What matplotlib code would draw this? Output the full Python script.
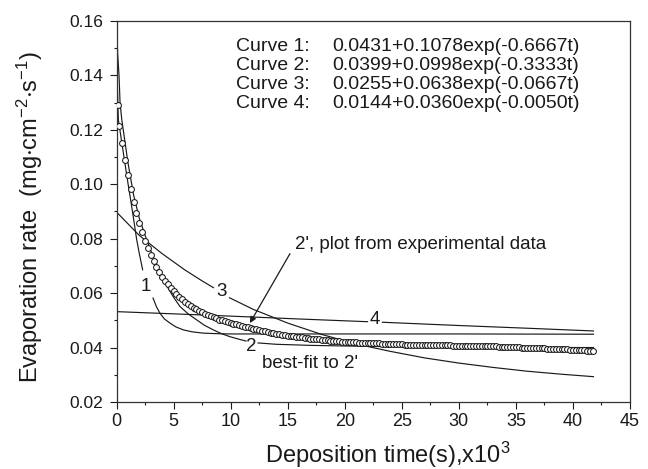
import numpy as np
import matplotlib
matplotlib.use("Agg")
import matplotlib.pyplot as plt
from matplotlib.ticker import MultipleLocator, FormatStrFormatter

plt.rcParams['font.family'] = ['Liberation Sans', 'DejaVu Sans']
plt.rcParams['mathtext.fontset'] = 'custom'
plt.rcParams['mathtext.rm'] = 'Liberation Sans'
plt.rcParams['mathtext.it'] = 'Liberation Sans:italic'
plt.rcParams['mathtext.default'] = 'regular'

# ---- experimental data 2' (time in 10^3 s, rate in mg cm^-2 s^-1) ----
exp_y = [
    0.1290,
    0.1216, 0.1150, 0.1088, 0.1033, 0.0982, 0.0936, 0.0895, 0.0858,
    0.0824, 0.0793, 0.0765, 0.0740, 0.0717, 0.0697, 0.0678, 0.0661,
    0.0646, 0.0632, 0.0619, 0.0607, 0.0596, 0.0586, 0.0577, 0.0569,
    0.0561, 0.0554, 0.0547, 0.0541, 0.0535, 0.0530, 0.0525, 0.0520,
    0.0515, 0.0511, 0.0507, 0.0503, 0.0500, 0.0496, 0.0493, 0.0490,
    0.0487, 0.0485, 0.0482, 0.0480, 0.0477, 0.0475, 0.0472, 0.0470,
    0.0467, 0.0465, 0.0462, 0.0460, 0.0458, 0.0455, 0.0453, 0.0451,
    0.0449, 0.0447, 0.0446, 0.0444, 0.0443, 0.0441, 0.0440, 0.0438,
    0.0437, 0.0436, 0.0434, 0.0433, 0.0432, 0.0431, 0.0430, 0.0428,
    0.0427, 0.0426, 0.0425, 0.0424, 0.0423, 0.0423, 0.0422, 0.0421,
    0.0420, 0.0420, 0.0419, 0.0419, 0.0418, 0.0418, 0.0417, 0.0417,
    0.0416, 0.0416, 0.0415, 0.0415, 0.0414, 0.0414, 0.0413, 0.0413,
    0.0413, 0.0412, 0.0412, 0.0412, 0.0411, 0.0411, 0.0411, 0.0411,
    0.0410, 0.0410, 0.0410, 0.0410, 0.0410, 0.0409, 0.0409, 0.0409,
    0.0409, 0.0408, 0.0408, 0.0408, 0.0408, 0.0407, 0.0407, 0.0407,
    0.0407, 0.0406, 0.0406, 0.0406, 0.0406, 0.0405, 0.0405, 0.0405,
    0.0405, 0.0404, 0.0404, 0.0404, 0.0404, 0.0403, 0.0403, 0.0403,
    0.0402, 0.0402, 0.0402, 0.0401, 0.0401, 0.0400, 0.0400, 0.0400,
    0.0399, 0.0399, 0.0398, 0.0398, 0.0397, 0.0397, 0.0396, 0.0396,
    0.0395, 0.0395, 0.0394, 0.0394, 0.0393, 0.0393, 0.0392, 0.0392,
    0.0391, 0.0391, 0.0390, 0.0390, 0.0389, 0.0389, 0.0388,
]
exp_t_first = 0.1
exp_t_step = 0.25

# ---- fitted curves as drawn (nan = gap for the curve label) ----
c1_t = [0.0, 0.05, 0.16, 0.6, 1.0, 1.4, 1.77, 2.0, 2.29, np.nan,
        3.2, 3.5, 3.81, 4.2, 4.68, 5.2, 5.85, 6.6, 7.6, 8.8, 9.94, 15.0, 30.0, 41.8]
c1_y = [0.160, 0.140, 0.1238, 0.1115, 0.1005, 0.0900, 0.0796, 0.0745, 0.0686, np.nan,
        0.0582, 0.0550, 0.0526, 0.0505, 0.0490, 0.0476, 0.0465, 0.0458, 0.0453, 0.0451,
        0.0450, 0.0450, 0.0450, 0.0449]

c2_t = [0.0, 0.1, 0.22, 0.31, 0.46, 1.0, 1.5, 2.0, 2.64, 3.2, 3.8, 4.5, 5.0, 5.56,
        6.3, 7.02, 7.7, 8.48, 9.2, 9.94, 10.7, 11.35, np.nan,
        12.4, 14.0, 17.0, 22.5, 30.0, 41.8]
c2_y = [0.160, 0.148, 0.140, 0.130, 0.1238, 0.1080, 0.0960, 0.0875, 0.0796, 0.0735,
        0.0675, 0.0620, 0.0585, 0.0551, 0.0523, 0.0502, 0.0482, 0.0465, 0.0451,
        0.0440, 0.0431, 0.0424, np.nan,
        0.0417, 0.0412, 0.0408, 0.0404, 0.0401, 0.0400]

c3_t = [0.0, 2.0, 4.0, 6.0, 7.5, 8.5, np.nan, 9.9, 12.0, 15.0, 18.0, 21.0, 24.0, 27.0,
        30.0, 33.0, 36.0, 39.0, 41.8]
c3_y = [0.0898, 0.0812, 0.0745, 0.0685, 0.0645, 0.0620, np.nan, 0.0583, 0.0540, 0.0490,
        0.0448, 0.0413, 0.0386, 0.0362, 0.0343, 0.0327, 0.0313, 0.0302, 0.0293]

c4_t = [0.0, 8.0, 16.0, 22.0, np.nan, 23.3, 30.0, 36.0, 41.8]
c4_y = [0.0532, 0.0519, 0.0505, 0.0495, np.nan, 0.0493, 0.0481, 0.0471, 0.0461]

curve_labels = ["1", "2", "3", "4"]
curve_label_t = [2.58, 11.85, 9.21, 22.65]
curve_label_y = [0.0624, 0.0403, 0.0607, 0.0503]

eq_names = ["Curve 1:", "Curve 2:", "Curve 3:", "Curve 4:"]
eq_texts = ["0.0431+0.1078exp(-0.6667t)", "0.0399+0.0998exp(-0.3333t)",
            "0.0255+0.0638exp(-0.0667t)", "0.0144+0.0360exp(-0.0050t)"]

x_label = "Deposition time(s),x10$^{3}$"
y_label = "Evaporation rate  (mg$\\cdot$cm$^{-2}$$\\cdot$s$^{-1}$)"

# ---------------------------------------------------------------
fig = plt.figure(figsize=(6.48, 4.69), dpi=100)
ax = fig.add_axes([0.1798, 0.1429, 0.9722 - 0.1798, 0.9552 - 0.1429])
lc = '#1a1a1a'

exp_t = [exp_t_first] + [exp_t_step * k for k in range(1, len(exp_y))]

for t, y in [(c1_t, c1_y), (c2_t, c2_y), (c3_t, c3_y), (c4_t, c4_y)]:
    ax.plot(t, y, color=lc, lw=0.85, zorder=2)

ax.plot(exp_t, exp_y, linestyle='none', marker='o', ms=4.2, mfc='white',
        mec=lc, mew=0.75, zorder=3)

for lab, tx, ty in zip(curve_labels, curve_label_t, curve_label_y):
    ax.text(tx, ty, lab, fontsize=13.5, ha='center', va='center', color=lc)

eq_y = [0.1508, 0.1438, 0.1367, 0.1296]
for name, eq, yy in zip(eq_names, eq_texts, eq_y):
    ax.text(10.5, yy, name, fontsize=14, ha='left', va='center', color=lc)
    ax.text(18.95, yy, eq, fontsize=14, ha='left', va='center', color=lc)

ax.text(15.6, 0.0778, "2', plot from experimental data", fontsize=13.5,
        ha='left', va='center', color=lc)
ax.annotate("", xy=(11.69, 0.0490), xytext=(15.2, 0.0745),
            arrowprops=dict(arrowstyle='-|>', color=lc, lw=0.9,
                            mutation_scale=9, shrinkA=0, shrinkB=0))
ax.text(12.71, 0.0342, "best-fit to 2'", fontsize=13.5, ha='left',
        va='center', color=lc)

ax.set_xlim(0, 45)
ax.set_ylim(0.02, 0.16)
ax.xaxis.set_major_locator(MultipleLocator(5))
ax.xaxis.set_minor_locator(MultipleLocator(2.5))
ax.yaxis.set_major_locator(MultipleLocator(0.02))
ax.yaxis.set_minor_locator(MultipleLocator(0.01))
ax.yaxis.set_major_formatter(FormatStrFormatter('%.2f'))
ax.tick_params(which='major', direction='out', length=4.8, width=0.8,
               colors=lc, top=False, right=False)
ax.tick_params(axis='y', which='major', labelsize=12.5, pad=5)
ax.tick_params(axis='x', which='major', labelsize=13, pad=3)
ax.tick_params(which='minor', direction='out', length=2.4, width=0.8,
               top=False, right=False, colors=lc)
for s in ax.spines.values():
    s.set_linewidth(0.9)
    s.set_color('#333333')

fig.text(388 / 648, 1 - 463 / 469, x_label, fontsize=17, color=lc,
         ha='center', va='baseline')
fig.text(30 / 648, 1 - 217 / 469, y_label, fontsize=17, color=lc,
         ha='center', va='center', rotation=90)

fig.savefig("out.png", dpi=100)
